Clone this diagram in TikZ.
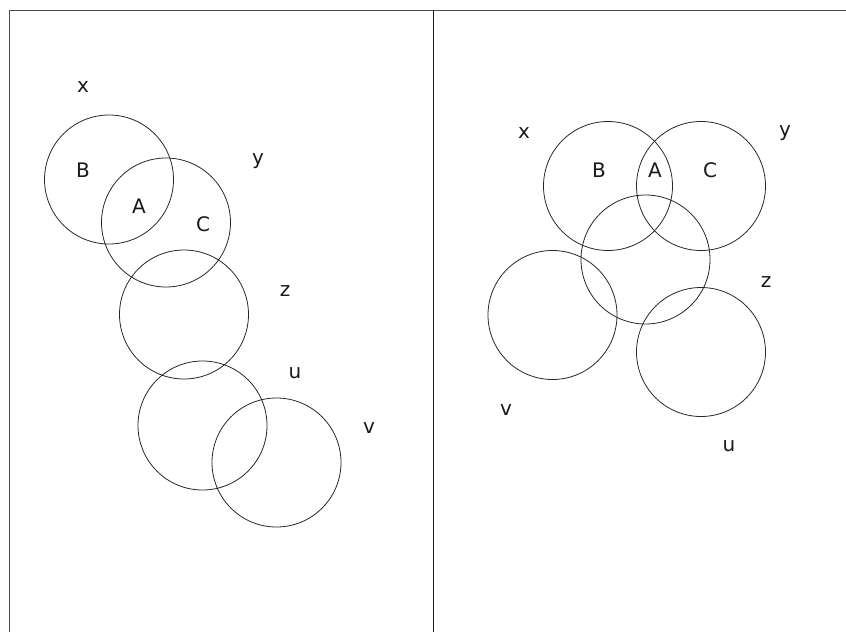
\documentclass[tikz,border=0pt]{standalone}
\usepackage{fontspec}
\setmainfont{DejaVu Sans}
\begin{document}
\begin{tikzpicture}[x=1pt,y=-1pt,
  venn/.style={draw=black!85, line width=0.8pt, circle, minimum size=129pt, inner sep=0pt},
  lbl/.style={font=\fontsize{20}{20}\selectfont, text=black!90, inner sep=0pt},
  frame/.style={draw=black!70, line width=1.4pt}]
\useasboundingbox (0,0) rectangle (846,632);
% frame
\coordinate (tl) at (9.5,10.3);
\coordinate (tr) at (846,10.3);
\coordinate (bl) at (9.5,632);
\coordinate (mt) at (433.3,10.3);
\coordinate (mb) at (433.3,632);
\draw[frame] (bl) -- (tl) -- (tr);
\draw[frame, draw=black!90] (mt) -- (mb);
% left panel
\node[venn] (L1) at (109,179.5) {};
\node[venn] (L2) at (166,222.5) {};
\node[venn] (L3) at (184,314.5) {};
\node[venn] (L4) at (202.5,425.5) {};
\node[venn] (L5) at (276.5,462.5) {};
\node[lbl] (lx) at (83,87) {x};
\node[lbl] (lB) at (83,170) {B};
\node[lbl] (lA) at (139,206) {A};
\node[lbl] (lC) at (203,224) {C};
\node[lbl] (ly) at (258,161) {y};
\node[lbl] (lz) at (285,291) {z};
\node[lbl] (lu) at (295,373) {u};
\node[lbl] (lv) at (369,428) {v};
% right panel
\node[venn] (R1) at (608,186) {};
\node[venn] (R2) at (701,186) {};
\node[venn] (R3) at (645.5,259.5) {};
\node[venn] (R4) at (552.5,315) {};
\node[venn] (R5) at (701,352) {};
\node[lbl] (rx) at (524,133) {x};
\node[lbl] (rB) at (599,170) {B};
\node[lbl] (rA) at (655,170) {A};
\node[lbl] (rC) at (710,170) {C};
\node[lbl] (ry) at (785,133) {y};
\node[lbl] (rz) at (766,282) {z};
\node[lbl] (rv) at (506,410) {v};
\node[lbl] (ru) at (729,446) {u};
\end{tikzpicture}
\end{document}
